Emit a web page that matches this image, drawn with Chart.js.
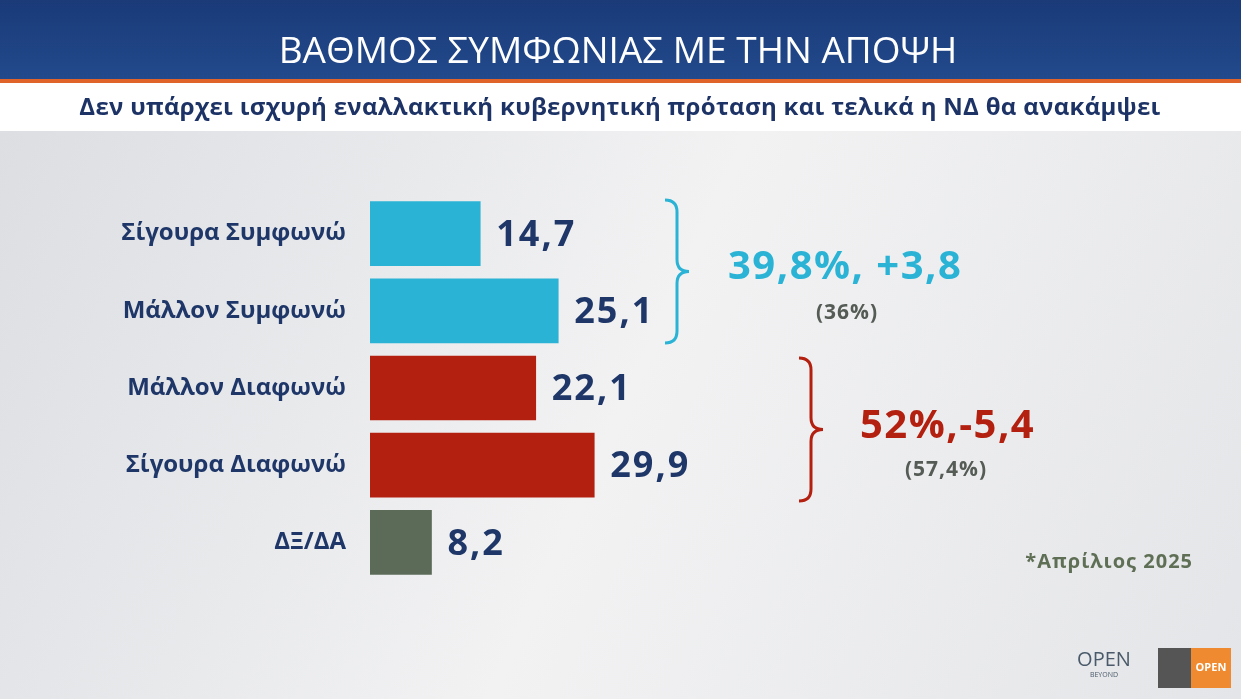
<!DOCTYPE html>
<html><head><meta charset="utf-8">
<script src="https://cdn.jsdelivr.net/npm/chart.js@4/dist/chart.umd.min.js"></script>
<style>html,body{margin:0;padding:0;overflow:hidden;background:#e9eaec}</style>
</head><body>
<canvas id="c" width="1241" height="699"></canvas>
<script>
// Δεδομένα
const categories = ["Σίγουρα Συμφωνώ", "Μάλλον Συμφωνώ", "Μάλλον Διαφωνώ", "Σίγουρα Διαφωνώ", "ΔΞ/ΔΑ"];
const values = [14.7, 25.1, 22.1, 29.9, 8.2];
const barColors = ["#2bb3d6", "#2bb3d6", "#b3200f", "#b3200f", "#5b6b58"];
const agreeText = "39,8%, +3,8", agreePrev = "(36%)";
const disagreeText = "52%,-5,4", disagreePrev = "(57,4%)";
const title = "ΒΑΘΜΟΣ ΣΥΜΦΩΝΙΑΣ ΜΕ ΤΗΝ ΑΠΟΨΗ";
const subtitle = "Δεν υπάρχει ισχυρή εναλλακτική κυβερνητική πρόταση και τελικά η ΝΔ θα ανακάμψει";
const note = "*Απρίλιος 2025";

const FONT = "'Open Sans', 'Noto Sans', sans-serif";
const navy = "#1e3768";

const deco = {
  id: "deco",
  beforeDraw(chart) {
    const c = chart.ctx;
    const g = c.createLinearGradient(0, 130, 1241, 699);
    g.addColorStop(0, "#dcdee2"); g.addColorStop(0.5, "#f2f2f3"); g.addColorStop(1, "#e4e5e8");
    c.fillStyle = g; c.fillRect(0, 0, 1241, 699);
    const h = c.createLinearGradient(0, 0, 0, 80);
    h.addColorStop(0, "#1a3a78"); h.addColorStop(1, "#224a8c");
    c.fillStyle = h; c.fillRect(0, 0, 1241, 80);
    c.fillStyle = "#e0642a"; c.fillRect(0, 79, 1241, 4);
    c.fillStyle = "#ffffff"; c.fillRect(0, 83, 1241, 48);
    c.textAlign = "center"; c.textBaseline = "middle";
    c.fillStyle = "#ffffff"; c.font = `37px ${FONT}`;
    c.fillText(title, 618, 52);
    c.fillStyle = "#1d3366"; c.font = `bold 24px ${FONT}`; c.letterSpacing = "0.3px";
    c.fillText(subtitle, 620, 108);
    c.letterSpacing = "0px";
  },
  afterDraw(chart) {
    const c = chart.ctx, meta = chart.getDatasetMeta(0);
    c.textBaseline = "middle"; c.textAlign = "left";
    c.font = `bold 36px ${FONT}`; c.fillStyle = navy; c.letterSpacing = "2px";
    meta.data.forEach((b, i) => c.fillText(values[i].toFixed(1).replace(".", ","), b.x + 16, b.y + 2));
    const brace = (x, y1, y2, col) => {
      const m = (y1 + y2) / 2, w = 12;
      c.strokeStyle = col; c.lineWidth = 3; c.beginPath();
      c.moveTo(x - w, y1); c.quadraticCurveTo(x, y1, x, y1 + w);
      c.lineTo(x, m - w); c.quadraticCurveTo(x, m, x + w, m);
      c.quadraticCurveTo(x, m, x, m + w); c.lineTo(x, y2 - w);
      c.quadraticCurveTo(x, y2, x - w, y2); c.stroke();
    };
    brace(677, 200, 343, "#2bb3d6");
    brace(811, 358, 501, "#b3200f");
    c.font = `bold 40px ${FONT}`; c.letterSpacing = "1.5px";
    c.fillStyle = "#2bb3d6"; c.fillText(agreeText, 728, 268);
    c.fillStyle = "#b3200f"; c.fillText(disagreeText, 860, 427);
    c.textAlign = "center"; c.font = `bold 21px ${FONT}`; c.fillStyle = "#555b55"; c.letterSpacing = "1px";
    c.fillText(agreePrev, 847, 313);
    c.fillText(disagreePrev, 946, 470);
    c.textAlign = "right"; c.fillStyle = "#5f6f55"; c.font = `bold 20px ${FONT}`;
    c.fillText(note, 1193, 562);
    c.letterSpacing = "0px";
    c.textAlign = "center"; c.fillStyle = "#4a5a6a"; c.font = `20px ${FONT}`;
    c.fillText("OPEN", 1104, 660); c.font = `7px ${FONT}`; c.fillText("BEYOND", 1104, 675);
    c.fillStyle = "#555"; c.fillRect(1158, 648, 34, 40);
    c.fillStyle = "#f08a30"; c.fillRect(1191, 648, 40, 40);
    c.fillStyle = "#fff"; c.font = `bold 11px ${FONT}`; c.fillText("OPEN", 1211, 668);
  }
};

new Chart(document.getElementById("c"), {
  type: "bar",
  data: { labels: categories, datasets: [{ data: values, backgroundColor: barColors, barThickness: 64, borderWidth: 0 }] },
  options: {
    indexAxis: "y", responsive: false, animation: false,
    layout: { padding: { top: 195, bottom: 118, left: 0, right: 271 } },
    plugins: { legend: { display: false }, tooltip: { enabled: false } },
    scales: {
      x: { display: false, min: 0, max: 80 },
      y: {
        grid: { display: false }, border: { display: false },
        afterFit: s => { s.width = 370; },
        ticks: { padding: 16, color: navy, font: { family: FONT, size: 24, weight: "bold" } }
      }
    }
  },
  plugins: [deco]
});
</script>
</body></html>
